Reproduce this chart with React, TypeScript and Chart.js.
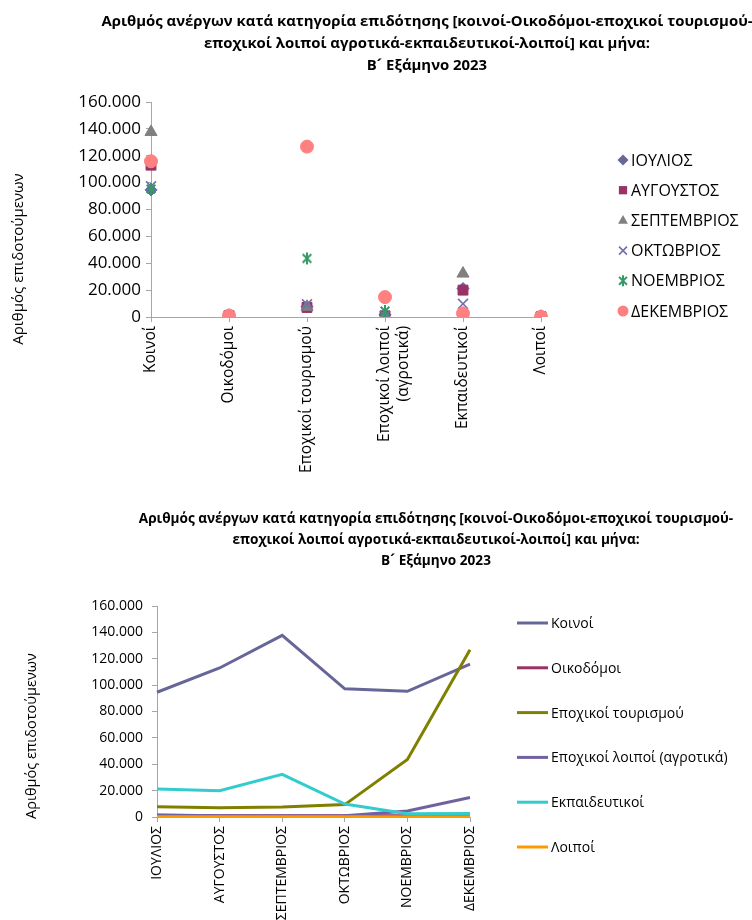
import React, { useEffect, useRef } from 'react';
import { Chart, registerables } from 'chart.js';

Chart.register(...registerables);

const FONT = '"Open Sans", "Noto Sans", sans-serif';

const titleLines = [
  'Αριθμός ανέργων κατά κατηγορία επιδότησης [κοινοί-Οικοδόμοι-εποχικοί τουρισμού-',
  'εποχικοί λοιποί αγροτικά-εκπαιδευτικοί-λοιποί] και μήνα:',
  'Β\u00B4 Εξάμηνο 2023',
];
const yAxisTitle = 'Αριθμός επιδοτούμενων';

const months = ['ΙΟΥΛΙΟΣ', 'ΑΥΓΟΥΣΤΟΣ', 'ΣΕΠΤΕΜΒΡΙΟΣ', 'ΟΚΤΩΒΡΙΟΣ', 'ΝΟΕΜΒΡΙΟΣ', 'ΔΕΚΕΜΒΡΙΟΣ'];
const categories = ['Κοινοί', 'Οικοδόμοι', 'Εποχικοί τουρισμού', 'Εποχικοί λοιποί (αγροτικά)', 'Εκπαιδευτικοί', 'Λοιποί'];

// values per category, July..December
const koinoi = [94600, 113000, 137700, 97200, 95300, 115900];
const oikodomoi = [1300, 1000, 900, 900, 1000, 1100];
const epoxikoiTourismou = [7700, 7100, 7600, 9400, 43600, 126800];
const epoxikoiLoipoi = [1600, 900, 800, 900, 4500, 14800];
const ekpaideutikoi = [21200, 20000, 32300, 9800, 2500, 2700];
const loipoi = [200, 200, 200, 200, 200, 200];

const yMin = 0;
const yMax = 160000;
const yStep = 20000;

const seriesByCategory = [koinoi, oikodomoi, epoxikoiTourismou, epoxikoiLoipoi, ekpaideutikoi, loipoi];

const monthColors = ['#666699', '#993366', '#808080', '#6F6FAF', '#339966', '#FF8080'];
const monthStyles = ['rectRot', 'rect', 'triangle', 'crossRot', 'asterisk', 'circle'];
const monthRadius = [6, 7, 7, 7, 6, 6.5];
const lineColors = ['#666699', '#993366', '#808000', '#71619F', '#33CCCC', '#FF9900'];

const AXIS = '#A6A6A6';

const fmt = (v: any) => String(v).replace(/\B(?=(\d{3})+(?!\d))/g, '.');

function makeAsterisk(r: number, color: string) {
  const c = document.createElement('canvas');
  const s = Math.ceil(r * 2 + 4);
  c.width = s;
  c.height = s;
  const ctx = c.getContext('2d')!;
  drawMarker(ctx, 'asterisk', s / 2, s / 2, r, color);
  return c;
}

function drawMarker(ctx: CanvasRenderingContext2D, style: string, x: number, y: number, r: number, color: string) {
  ctx.save();
  ctx.fillStyle = color;
  ctx.strokeStyle = color;
  ctx.lineWidth = 1.6;
  ctx.beginPath();
  const d = r * 0.72;
  switch (style) {
    case 'rectRot':
      ctx.moveTo(x, y - r);
      ctx.lineTo(x + r, y);
      ctx.lineTo(x, y + r);
      ctx.lineTo(x - r, y);
      ctx.closePath();
      ctx.fill();
      break;
    case 'rect':
      ctx.rect(x - r * 0.75, y - r * 0.75, r * 1.5, r * 1.5);
      ctx.fill();
      break;
    case 'triangle':
      ctx.moveTo(x, y - r);
      ctx.lineTo(x + r * 0.9, y + r * 0.6);
      ctx.lineTo(x - r * 0.9, y + r * 0.6);
      ctx.closePath();
      ctx.fill();
      break;
    case 'crossRot':
      ctx.moveTo(x - d, y - d);
      ctx.lineTo(x + d, y + d);
      ctx.moveTo(x + d, y - d);
      ctx.lineTo(x - d, y + d);
      ctx.stroke();
      break;
    case 'asterisk':
      ctx.lineWidth = 2;
      ctx.moveTo(x - d, y - d);
      ctx.lineTo(x + d, y + d);
      ctx.moveTo(x + d, y - d);
      ctx.lineTo(x - d, y + d);
      ctx.moveTo(x, y - r);
      ctx.lineTo(x, y + r);
      ctx.stroke();
      break;
    default:
      ctx.arc(x, y, r, 0, Math.PI * 2);
      ctx.fill();
  }
  ctx.restore();
}

const overlayPlugin = {
  id: 'overlay',
  afterDraw(chart: any, _args: any, o: any) {
    const ctx: CanvasRenderingContext2D = chart.ctx;
    ctx.save();
    ctx.fillStyle = '#000';
    ctx.textBaseline = 'middle';
    ctx.textAlign = 'center';
    ctx.font = `bold ${o.titleSize}px ${FONT}`;
    o.title.forEach((t: string, i: number) => ctx.fillText(t, o.titleX, o.titleY + i * o.titleGap));
    ctx.save();
    ctx.translate(o.yTitleX, o.yTitleY);
    ctx.rotate(-Math.PI / 2);
    ctx.font = `${o.yTitleSize}px ${FONT}`;
    ctx.fillText(o.yTitle, 0, 0);
    ctx.restore();
    ctx.textAlign = 'left';
    ctx.font = `${o.legendSize}px ${FONT}`;
    chart.data.datasets.forEach((ds: any, i: number) => {
      const y = o.legendY + i * o.legendGap;
      if (o.kind === 'marker') {
        drawMarker(ctx, monthStyles[i], o.legendX, y, o.markerR, monthColors[i]);
      } else {
        ctx.save();
        ctx.strokeStyle = ds.borderColor;
        ctx.lineWidth = 3;
        ctx.beginPath();
        ctx.moveTo(o.legendX, y);
        ctx.lineTo(o.legendX + o.lineLen, y);
        ctx.stroke();
        ctx.restore();
      }
      ctx.fillStyle = '#000';
      ctx.fillText(ds.label, o.legendTextX, y + 1);
    });
    ctx.restore();
  },
};

const axisLabel = (s: string) => (s.includes(' (') ? s.split(' (').map((p, i) => (i ? '(' + p : p)) : s);

function scales(opts: any) {
  return {
    x: {
      type: 'category',
      offset: false,
      grid: { display: true, drawOnChartArea: false, drawTicks: true, tickLength: 5, color: AXIS },
      border: { display: true, color: AXIS, width: 1 },
      ticks: {
        autoSkip: false,
        minRotation: 90,
        maxRotation: 90,
        color: '#000',
        padding: opts.xPad,
        font: { family: FONT, size: opts.xFont },
      },
      afterFit: (s: any) => {
        s.height = opts.xHeight;
      },
    },
    y: {
      min: yMin,
      max: yMax,
      grid: { display: true, drawOnChartArea: false, drawTicks: true, tickLength: 5, color: AXIS },
      border: { display: true, color: AXIS, width: 1 },
      ticks: {
        stepSize: yStep,
        color: '#000',
        padding: opts.yPad,
        font: { family: FONT, size: opts.yFont },
        callback: (v: any) => fmt(v),
      },
      afterFit: (s: any) => {
        s.width = opts.yWidth;
      },
    },
  };
}

export default function App() {
  const ref1 = useRef<HTMLCanvasElement>(null);
  const ref2 = useRef<HTMLCanvasElement>(null);

  useEffect(() => {
    const scatterSets = months.map((m, i) => ({
      label: m,
      data: seriesByCategory.map((vals) => vals[i]),
      showLine: false,
      pointStyle: monthStyles[i] === 'asterisk' ? makeAsterisk(monthRadius[i], monthColors[i]) : monthStyles[i],
      pointRadius: monthRadius[i],
      pointBackgroundColor: monthColors[i],
      pointBorderColor: monthColors[i],
      pointBorderWidth: monthStyles[i] === 'crossRot' ? 1.6 : 1,
      backgroundColor: monthColors[i],
      borderColor: monthColors[i],
      order: 5 - i,
    }));

    const c1 = new Chart(ref1.current!, {
      type: 'line',
      data: { labels: categories.map(axisLabel), datasets: scatterSets as any },
      options: {
        animation: false,
        responsive: false,
        events: [],
        layout: { padding: { left: 0, top: 102, right: 752 - 541, bottom: 0 } },
        plugins: {
          legend: { display: false },
          title: { display: false },
          tooltip: { enabled: false },
          overlay: {
            title: titleLines,
            titleSize: 14.9,
            titleX: 427,
            titleY: 22,
            titleGap: 22,
            yTitle: yAxisTitle,
            yTitleSize: 15,
            yTitleX: 19,
            yTitleY: 259,
            kind: 'marker',
            legendSize: 16,
            legendX: 623,
            legendTextX: 631,
            legendY: 160,
            legendGap: 30.2,
            markerR: 5.5,
          },
        } as any,
        scales: scales({ xPad: 4, xFont: 15.5, xHeight: 490 - 317, yPad: 5, yFont: 17, yWidth: 151 }) as any,
      },
      plugins: [overlayPlugin],
    });

    const lineSets = categories.map((c, i) => ({
      label: c,
      data: seriesByCategory[i],
      borderColor: lineColors[i],
      backgroundColor: lineColors[i],
      borderWidth: 3,
      pointRadius: 0,
      tension: 0,
      fill: false,
      order: 5 - i,
    }));

    const c2 = new Chart(ref2.current!, {
      type: 'line',
      data: { labels: months, datasets: lineSets as any },
      options: {
        animation: false,
        responsive: false,
        events: [],
        layout: { padding: { left: 0, top: 116, right: 752 - 470, bottom: 0 } },
        plugins: {
          legend: { display: false },
          title: { display: false },
          tooltip: { enabled: false },
          overlay: {
            title: titleLines,
            titleSize: 13.6,
            titleX: 436,
            titleY: 29,
            titleGap: 21,
            yTitle: yAxisTitle,
            yTitleSize: 14.5,
            yTitleX: 32,
            yTitleY: 246,
            kind: 'line',
            legendSize: 14,
            legendX: 517,
            lineLen: 31,
            legendTextX: 551,
            legendY: 133,
            legendGap: 44.8,
          },
        } as any,
        scales: scales({ xPad: 4, xFont: 14, xHeight: 430 - 327, yPad: 9, yFont: 14, yWidth: 157 }) as any,
      },
      plugins: [overlayPlugin],
    });

    return () => {
      c1.destroy();
      c2.destroy();
    };
  }, []);

  return (
    <div style={{ position: 'absolute', left: 0, top: 0, width: 752, height: 920, background: '#fff', overflow: 'hidden' }}>
      <canvas ref={ref1} width={752} height={490} style={{ position: 'absolute', left: 0, top: 0 }} />
      <canvas ref={ref2} width={752} height={430} style={{ position: 'absolute', left: 0, top: 490 }} />
    </div>
  );
}
